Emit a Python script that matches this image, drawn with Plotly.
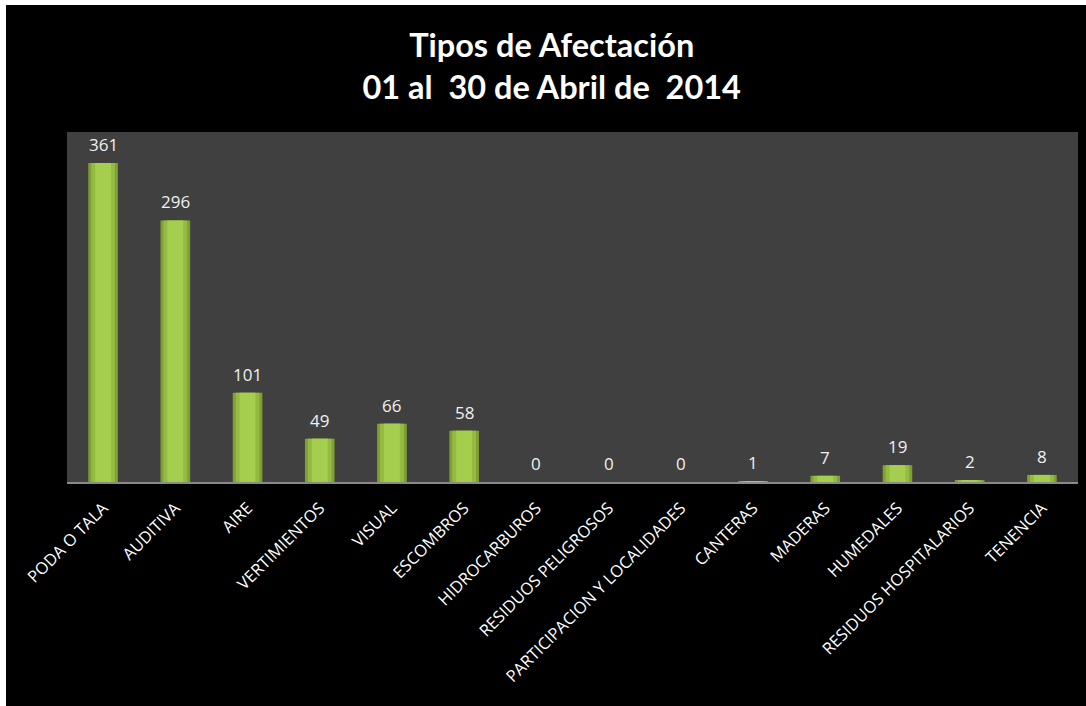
import plotly.graph_objects as go

categories = ["PODA O TALA", "AUDITIVA", "AIRE", "VERTIMIENTOS", "VISUAL", "ESCOMBROS",
              "HIDROCARBUROS", "RESIDUOS PELIGROSOS", "PARTICIPACION Y LOCALIDADES",
              "CANTERAS", "MADERAS", "HUMEDALES", "RESIDUOS HOSPITALARIOS", "TENENCIA"]
values = [361, 296, 101, 49, 66, 58, 0, 0, 0, 1, 7, 19, 2, 8]
title_lines = ["Tipos de Afectación", "01 al  30 de Abril de  2014"]

W, H = 1086, 706
L, R, T, B = 67, 8, 132, 224
pw, ph = W - L - R, H - T - B

fig = go.Figure()
fig.add_trace(go.Bar(
    x=categories, y=values, width=0.41,
    marker=dict(color="#7f9f33", line=dict(width=0)),
    hoverinfo="skip", showlegend=False,
))
fig.add_trace(go.Bar(
    x=categories, y=values, width=0.33,
    marker=dict(color="#93bb42", line=dict(width=0)),
    hoverinfo="skip", showlegend=False,
))
fig.add_trace(go.Bar(
    x=categories, y=values, width=0.22,
    marker=dict(color="#a6ce4e", line=dict(width=0)),
    hoverinfo="skip", showlegend=False,
))

annotations = [
    dict(x=c, y=v, xref="x", yref="y", text=str(v), showarrow=False,
         yanchor="bottom", yshift=5,
         font=dict(family="Open Sans", size=17, color="#f0f0f0"))
    for c, v in zip(categories, values)
]

fig.update_layout(
    width=W, height=H,
    margin=dict(l=L, r=R, t=T, b=B, pad=0),
    paper_bgcolor="white",
    plot_bgcolor="#404040",
    barmode="overlay",
    title=dict(
        text="<b>" + title_lines[0] + "<br>" + title_lines[1] + "</b>",
        x=0.508, xref="container", xanchor="center",
        y=1 - 57 / H, yref="container", yanchor="top",
        font=dict(family="Lato", size=32.5, color="white"),
    ),
    xaxis=dict(
        tickangle=-45, tickfont=dict(family="Open Sans", size=16.5, color="white"),
        showline=True, linecolor="#8a8a8a", linewidth=2, ticks="",
        ticklabelstandoff=8,
        showgrid=False, fixedrange=True,
    ),
    yaxis=dict(range=[0, 396], visible=False, showgrid=False, zeroline=False),
    annotations=annotations,
    shapes=[
        dict(type="rect", xref="paper", yref="paper", layer="below",
             x0=(6 - L) / pw, x1=(W - L) / pw + 0.01,
             y0=-(H - (T + ph)) / ph - 0.01, y1=(T + ph - 5) / ph,
             fillcolor="black", line=dict(width=0)),
        dict(type="rect", xref="paper", yref="paper", layer="below",
             x0=0, x1=1, y0=0, y1=1, fillcolor="#404040", line=dict(width=0)),
    ],
)

fig.write_html("out.html")
